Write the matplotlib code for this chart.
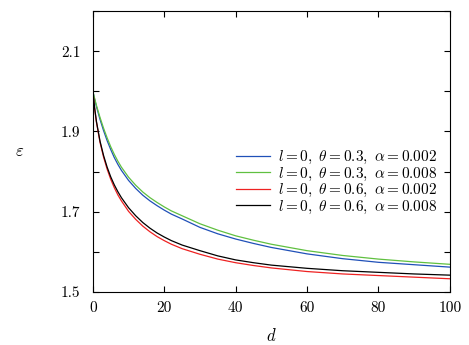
import matplotlib
matplotlib.use("Agg")
import matplotlib.pyplot as plt

plt.rcParams['font.family'] = ['cmr10', 'DejaVu Serif']
plt.rcParams['mathtext.fontset'] = 'cm'
plt.rcParams['axes.formatter.use_mathtext'] = True

# Data
d = [0, 0.5, 1, 2, 3, 4, 5, 6, 7, 8, 10, 12, 14, 16, 18, 20, 22, 25, 30, 35, 40, 45, 50,
     60, 70, 80, 90, 100]
eps_green = [2.0, 1.982, 1.965, 1.935, 1.908, 1.884, 1.862, 1.843, 1.826, 1.811, 1.786,
             1.766, 1.749, 1.735, 1.723, 1.712, 1.702, 1.690, 1.670, 1.654, 1.640, 1.629,
             1.619, 1.603, 1.591, 1.582, 1.575, 1.569]
eps_blue = [2.0, 1.980, 1.962, 1.930, 1.902, 1.877, 1.855, 1.835, 1.818, 1.803, 1.778,
            1.758, 1.741, 1.727, 1.715, 1.704, 1.694, 1.682, 1.661, 1.645, 1.632, 1.621,
            1.611, 1.595, 1.583, 1.574, 1.568, 1.562]
eps_black = [2.0, 1.958, 1.925, 1.876, 1.840, 1.811, 1.787, 1.767, 1.750, 1.735, 1.710,
             1.690, 1.673, 1.659, 1.647, 1.637, 1.628, 1.617, 1.603, 1.590, 1.580, 1.573,
             1.567, 1.559, 1.553, 1.549, 1.545, 1.542]
eps_red = [2.0, 1.957, 1.923, 1.873, 1.836, 1.806, 1.781, 1.760, 1.742, 1.727, 1.701,
           1.681, 1.664, 1.650, 1.638, 1.628, 1.619, 1.608, 1.594, 1.582, 1.573, 1.566,
           1.560, 1.551, 1.545, 1.541, 1.537, 1.533]

labels = [r'$l=0,\ \theta=0.3,\ \alpha=0.002$',
          r'$l=0,\ \theta=0.3,\ \alpha=0.008$',
          r'$l=0,\ \theta=0.6,\ \alpha=0.002$',
          r'$l=0,\ \theta=0.6,\ \alpha=0.008$']

xticks = [0, 20, 40, 60, 80, 100]
yticks = [1.5, 1.6, 1.7, 1.8, 1.9, 2.0, 2.1, 2.2]
yticklabels = ['1.5', '', '1.7', '', '1.9', '', '2.1', '']

fig = plt.figure(figsize=(4.69, 3.45), dpi=100)
ax = fig.add_axes([0.198, 0.1536, 0.761, 0.8145])

ax.plot(d, eps_blue, color='#2050b8', lw=0.9, label=labels[0])
ax.plot(d, eps_green, color='#60c040', lw=0.9, label=labels[1])
ax.plot(d, eps_red, color='#ee2222', lw=0.9, label=labels[2])
ax.plot(d, eps_black, color='black', lw=0.9, label=labels[3])

ax.set_xlim(0, 100)
ax.set_ylim(1.5, 2.2)
ax.set_xticks(xticks)
ax.set_xticklabels([str(x) for x in xticks])
ax.set_yticks(yticks)
ax.set_yticklabels(yticklabels)
ax.tick_params(direction='in', top=True, right=True, length=4, labelsize=11)
ax.tick_params(axis='y', pad=9)
ax.tick_params(axis='x', pad=7)

ax.set_xlabel(r'$d$', fontsize=12, labelpad=8)
ax.set_ylabel(r'$\varepsilon$', fontsize=12, rotation=0, labelpad=30, va='center')

ax.legend(loc='center right', bbox_to_anchor=(0.964, 0.39), frameon=False,
          fontsize=11, handlelength=2.2, handletextpad=0.5, labelspacing=-0.04,
          borderaxespad=0, borderpad=0)

fig.savefig('out.png', dpi=100)
